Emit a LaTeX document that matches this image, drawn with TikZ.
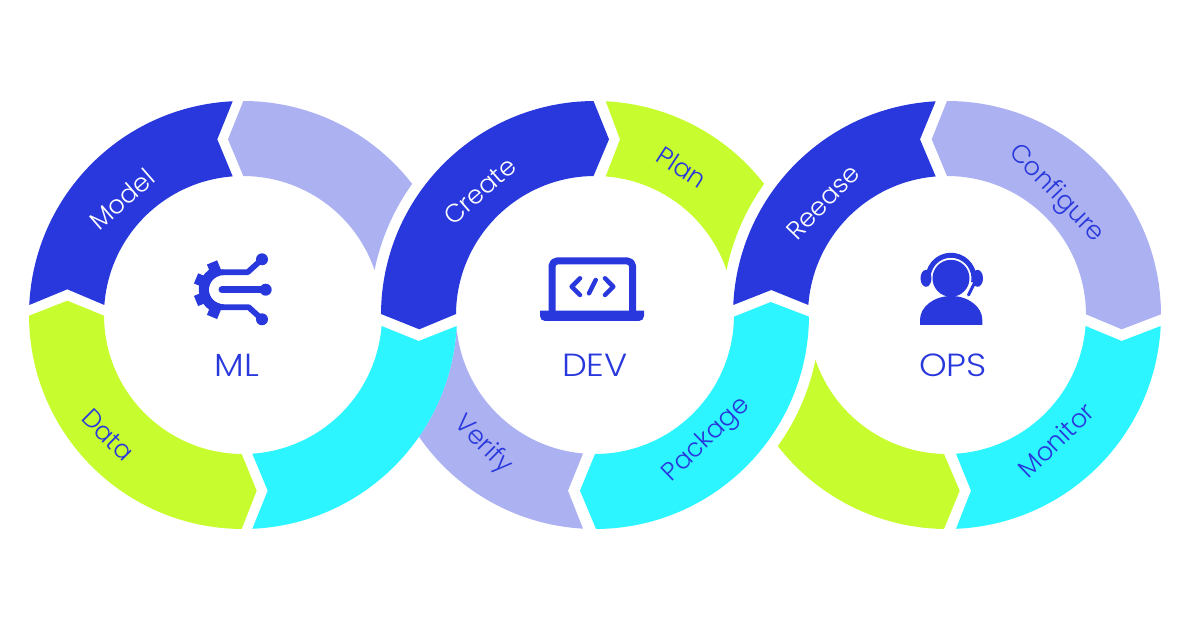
\documentclass[tikz,border=0pt]{standalone}
\usepackage{fontspec}
\setmainfont{Poppins Light}
\usetikzlibrary{positioning,calc}
\definecolor{royal}{HTML}{2938DC}
\definecolor{lilac}{HTML}{ABB1F1}
\definecolor{aqua}{HTML}{2CF5FF}
\definecolor{lime}{HTML}{C7FC2E}
\tikzstyle{ringlabel}=[inner sep=0pt, font=\fontsize{25.5}{25.5}\selectfont]
\tikzstyle{darklabel}=[ringlabel, text=royal]
\tikzstyle{lightlabel}=[ringlabel, text=white]
\tikzstyle{titlelabel}=[inner sep=0pt, text=royal, xscale=1.1, font=\fontsize{32}{32}\selectfont]
\tikzstyle{iconfill}=[fill=royal, draw=none]
\tikzstyle{iconline}=[draw=royal, line cap=round, line join=round]
\def\outerrad{214}
\def\innerrad{139}
\def\cutrad{225}
% #1 colour, #2 centre, #3-#4 outer arc, #5 point, #6-#7 inner arc, #8 point
\newcommand{\ringpart}[8]{
    \fill[#1] ([shift={(#3:\outerrad)}]#2) arc[start angle=#3, end angle=#4, radius=\outerrad]
        -- ([shift={(#5)}]#2)
        -- ([shift={(#6:\innerrad)}]#2) arc[start angle=#6, end angle=#7, radius=\innerrad]
        -- ([shift={(#8)}]#2) -- cycle;
}
% same, but the far end follows a circle round #5
\newcommand{\ringcut}[9]{
    \fill[#1] ([shift={(#3:\outerrad)}]#2) arc[start angle=#3, end angle=#4, radius=\outerrad]
        arc[start angle=#6, end angle=#7, radius=#8]
        -- #9;
}
\begin{document}
\begin{tikzpicture}[x=1pt,y=1pt]

    \useasboundingbox (0,0) rectangle (1200,630);

    \coordinate (ml) at (243,315);
    \coordinate (dev) at (595,315);
    \coordinate (ops) at (947,315);

    % ml ring
    \ringcut{lilac}{ml}{89.92}{37.78}{dev}{144.36}{168.48}{\cutrad}
        {([shift={(18.87:\innerrad)}]ml) arc[start angle=18.87, end angle=89.88, radius=\innerrad] -- ([shift={(-15,175.7)}]ml) -- cycle}
    \ringpart{royal}{ml}{177.32}{92.76}{-25.7,175.7}{94.25}{175.87}{-175.7,25.7}
    \ringpart{lime}{ml}{180.19}{269.65}{13.7,-175.7}{269.46}{180.29}{-175.7,14.3}

    % dev ring
    \ringcut{lilac}{dev}{266.79}{214.67}{ml}{-34.67}{-3.03}{\outerrad}
        {([shift={(184.66:\innerrad)}]dev) arc[start angle=184.66, end angle=265.05, radius=\innerrad] -- ([shift={(-27,-175.7)}]dev) -- cycle}
    \ringpart{aqua}{ml}{272.49}{357.05}{175.7,-26}{355.46}{273.84}{24.7,-175.7}
    \ringpart{royal}{dev}{179.73}{90.4}{14,175.7}{90.62}{179.59}{-175.7,-14.3}
    \ringcut{lime}{dev}{87.13}{37.78}{ops}{144.36}{168.48}{\cutrad}
        {([shift={(18.87:\innerrad)}]dev) arc[start angle=18.87, end angle=85.58, radius=\innerrad] -- ([shift={(25,175.7)}]dev) -- cycle}
    \ringpart{aqua}{dev}{270.27}{359.55}{175.7,13}{359.3}{270}{-15,-175.7}

    % ops ring
    \ringpart{royal}{ops}{177.32}{93.03}{-27,175.7}{94.66}{175.87}{-175.7,25}
    \ringpart{lilac}{ops}{90}{0.19}{174.7,-14.3}{0.29}{90}{-15.3,175.7}
    \ringpart{aqua}{ops}{272.41}{357.05}{174.7,-26}{355.46}{273.71}{24,-175.7}
    \ringcut{lime}{ops}{269.2}{217.78}{dev}{-35.64}{-11.52}{\cutrad}
        {([shift={(198.87:\innerrad)}]ops) arc[start angle=198.87, end angle=268.76, radius=\innerrad] -- ([shift={(12.7,-175.7)}]ops) -- cycle}

    % ring labels
    \node[lightlabel, rotate=41] (modellabel) at (122,431) {Model};
    \node[darklabel, rotate=-45] (datalabel) at (108,195) {Data};
    \node[lightlabel, rotate=41] (createlabel) at (480,439) {Create};
    \node[darklabel, rotate=-33] (planlabel) at (682,463) {Plan};
    \node[darklabel, rotate=-45] (verifylabel) at (483,185) {Verify};
    \node[darklabel, rotate=44] (packagelabel) at (707,190) {Package};
    \node[lightlabel, rotate=46] (releaselabel) at (823,428) {Reease};
    \node[darklabel, rotate=-46] (configlabel) at (1056,436) {Configure};
    \node[darklabel, rotate=44] (monitorlabel) at (1056,190) {Monitor};

    % titles
    \node[titlelabel] (mltitle) at (237,265) {ML};
    \node[titlelabel] (devtitle) at (595,265) {DEV};
    \node[titlelabel] (opstitle) at (953,265) {OPS};

    % gear icon
    \coordinate (gear) at (223.3,340.3);
    \foreach \a in {112.5,157.5,202.5,247.5}
        \fill[iconfill, shift={(gear)}, rotate=\a] (19,-5.5) rectangle (29.5,5.5);
    \draw[iconline, line width=6, line cap=butt] ([shift={(90:17.5)}]gear) arc[start angle=90, end angle=270, radius=17.5];
    \draw[iconline, line width=10, line cap=butt] ([shift={(105:19.5)}]gear) arc[start angle=105, end angle=255, radius=19.5];
    \draw[iconline, line width=5.7] (223.3,357.8) -- (247.7,357.8) -- (262,370.7);
    \draw[iconline, line width=5.7] (223.3,322.8) -- (248.7,322.8) -- (262,310.7);
    \draw[iconline, line width=7] (222,340.3) -- (265.7,340.3);
    \foreach \x/\y in {262/370.7,265.7/340.3,262/310.7}
        \fill[iconfill] (\x,\y) circle (6);

    % laptop icon
    \draw[iconline, line width=7, line cap=butt, rounded corners=5] (552,319) -- (552,369) -- (632.5,369) -- (632.5,319);
    \fill[iconfill] (540,319.3) [rounded corners=5] -- (540,309) -- (644,309) [sharp corners] -- (644,319.3) -- cycle;
    \draw[iconline, line width=4.5] (580,351.7) -- (571.7,343.3) -- (580,335);
    \draw[iconline, line width=4.5] (595.7,350) -- (589,336.7);
    \draw[iconline, line width=4.5] (605,351.7) -- (613.3,343.3) -- (605,335);

    % headset icon
    \coordinate (head) at (951,351.7);
    \fill[iconfill] (head) circle (18.5);
    \draw[iconline, line width=5, line cap=butt] ([shift={(-10:23)}]head) arc[start angle=-10, end angle=190, radius=23];
    \fill[iconfill] (926,351.7) ellipse (5.5 and 8.5);
    \fill[iconfill] (977.5,351.7) ellipse (5.5 and 8.5);
    \draw[iconline, line width=3] (974,346) -- (968.5,335);
    \fill[iconfill] (920,305) -- (920,310) arc[start angle=180, end angle=0, x radius=31.15, y radius=24] -- (982.3,305) -- cycle;

\end{tikzpicture}
\end{document}
